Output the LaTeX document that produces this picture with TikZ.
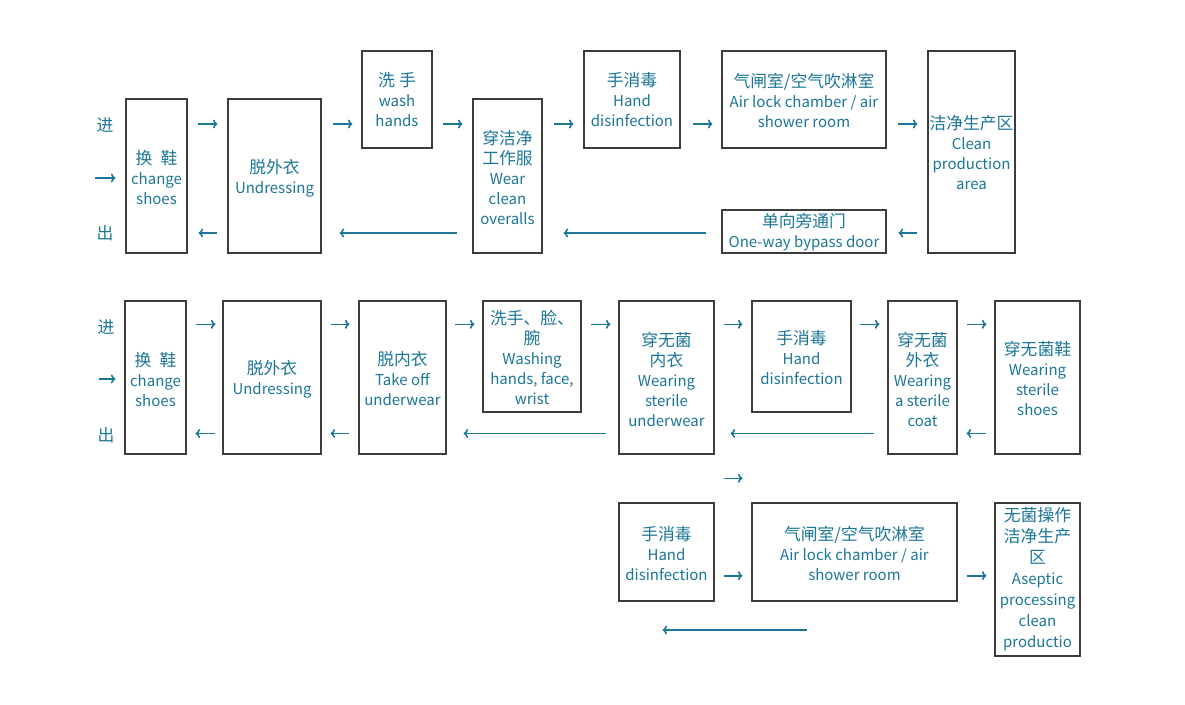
\documentclass[tikz,border=0pt]{standalone}
\usepackage{fontspec}
\setmainfont{Noto Sans CJK SC}
\newfontfamily\zhfont[Scale=1.12]{Noto Sans CJK SC}
\newcommand{\zh}[1]{{\zhfont #1}}
\usetikzlibrary{arrows.meta}
\definecolor{tealtext}{RGB}{28,118,152}
\definecolor{boxline}{RGB}{60,60,60}
\begin{document}
\begin{tikzpicture}[x=1pt,y=1pt,
  box/.style 2 args={draw=boxline,line width=1.1pt,inner sep=0pt,minimum width=#1,minimum height=#2},
  txt/.style={text=tealtext,align=center,inner sep=0pt,font=\fontsize{15pt}{20pt}\selectfont},
  arr/.style={draw=tealtext,line width=1.6pt,-{To[length=4.5pt,width=9pt]}}]
\useasboundingbox (0,0) rectangle (1185,-704);
\fill[white] (0,0) rectangle (1185,-704);

% ---------- Row 1 ----------
\node[box={61pt}{154pt}] (r1a) at (156.5,-176) {};
\node[box={93pt}{154pt}] (r1b) at (274.5,-176) {};
\node[box={70pt}{97pt}]  (r1c) at (397,-99.5) {};
\node[box={69pt}{154pt}] (r1d) at (507.5,-176) {};
\node[box={96pt}{97pt}]  (r1e) at (632,-99.5) {};
\node[box={164pt}{97pt}] (r1f) at (804,-99.5) {};
\node[box={87pt}{202pt}] (r1g) at (971.5,-152) {};
\node[box={164pt}{43pt}] (r1h) at (804,-231.5) {};

\node[txt] (t1a) at ([yshift=-1.5pt]r1a.center) {\zh{换\hspace{0.5em}鞋}\\change\\shoes};
\node[txt] (t1b) at ([yshift=-2pt]r1b.center) {\zh{脱外衣}\\Undressing};
\node[txt] (t1c) at ([yshift=-0.5pt]r1c.center) {\zh{洗\hspace{0.25em}手}\\wash\\hands};
\node[txt] (t1d) at ([yshift=-1.5pt]r1d.center) {\zh{穿洁净}\\\zh{工作服}\\Wear\\clean\\overalls};
\node[txt] (t1e) at ([yshift=-0.5pt]r1e.center) {\zh{手消毒}\\Hand\\disinfection};
\node[txt] (t1f) at ([yshift=-0.5pt]r1f.center) {\zh{气闸室/空气吹淋室}\\Air lock chamber / air\\shower room};
\node[txt] (t1g) at ([yshift=-0.5pt]r1g.center) {\zh{洁净生产区}\\Clean\\production\\area};
\node[txt] (t1h) at ([yshift=-0.5pt]r1h.center) {\zh{单向旁通门}\\One-way bypass door};

\node[txt] (in1) at (105,-125) {\zh{进}};
\node[txt] (out1) at (105,-233) {\zh{出}};
\coordinate (e1) at (95,-178);
\draw[arr,shorten >=10pt] (e1) -- (r1a.west |- e1);

\coordinate (y1r) at (0,-124);
\coordinate (y1l) at (0,-233);
\draw[arr,shorten <=10pt,shorten >=10pt] (r1a.east |- y1r) -- (r1b.west |- y1r);
\draw[arr,shorten <=11pt,shorten >=9pt]  (r1b.east |- y1r) -- (r1c.west |- y1r);
\draw[arr,shorten <=10pt,shorten >=10pt] (r1c.east |- y1r) -- (r1d.west |- y1r);
\draw[arr,shorten <=11pt,shorten >=10pt] (r1d.east |- y1r) -- (r1e.west |- y1r);
\draw[arr,shorten <=12pt,shorten >=9pt]  (r1e.east |- y1r) -- (r1f.west |- y1r);
\draw[arr,shorten <=11pt,shorten >=10pt] (r1f.east |- y1r) -- (r1g.west |- y1r);

\draw[arr,shorten <=10pt,shorten >=11pt] (r1b.west |- y1l) -- (r1a.east |- y1l);
\draw[arr,shorten <=15pt,shorten >=18pt] (r1d.west |- y1l) -- (r1b.east |- y1l);
\draw[arr,shorten <=15pt,shorten >=21pt] (r1h.west |- y1l) -- (r1d.east |- y1l);
\draw[arr,shorten <=10pt,shorten >=12pt] (r1g.west |- y1l) -- (r1h.east |- y1l);

% ---------- Row 2 ----------
\node[box={61pt}{153pt}] (r2a) at (155.5,-377.5) {};
\node[box={98pt}{153pt}] (r2b) at (272,-377.5) {};
\node[box={87pt}{153pt}] (r2c) at (402.5,-377.5) {};
\node[box={98pt}{111pt}] (r2d) at (532,-356.5) {};
\node[box={95pt}{153pt}] (r2e) at (666.5,-377.5) {};
\node[box={99pt}{111pt}] (r2f) at (801.5,-356.5) {};
\node[box={69pt}{153pt}] (r2g) at (922.5,-377.5) {};
\node[box={85pt}{153pt}] (r2h) at (1037.5,-377.5) {};

\node[txt] (t2a) at ([yshift=-2pt]r2a.center) {\zh{换\hspace{0.5em}鞋}\\change\\shoes};
\node[txt] (t2b) at ([yshift=-1.5pt]r2b.center) {\zh{脱外衣}\\Undressing};
\node[txt] (t2c) at ([yshift=-1.5pt]r2c.center) {\zh{脱内衣}\\Take off\\underwear};
\node[txt] (t2d) at ([yshift=-0.5pt]r2d.center) {\zh{洗手、脸、}\\\zh{腕}\\Washing\\hands, face,\\wrist};
\node[txt] (t2e) at ([yshift=-1.5pt]r2e.center) {\zh{穿无菌}\\\zh{内衣}\\Wearing\\sterile\\underwear};
\node[txt] (t2f) at ([yshift=-1.5pt]r2f.center) {\zh{手消毒}\\Hand\\disinfection};
\node[txt] (t2g) at ([yshift=-1.5pt]r2g.center) {\zh{穿无菌}\\\zh{外衣}\\Wearing\\a sterile\\coat};
\node[txt] (t2h) at ([yshift=-1pt]r2h.center) {\zh{穿无菌鞋}\\Wearing\\sterile\\shoes};

\node[txt] (in2) at (106,-327) {\zh{进}};
\node[txt] (out2) at (106,-435) {\zh{出}};
\coordinate (e2) at (99,-379);
\draw[arr,shorten >=9pt] (e2) -- (r2a.west |- e2);

\coordinate (y2r) at (0,-324.3);
\coordinate (y2l) at (0,-433.5);
\draw[arr,shorten <=9pt,shorten >=7pt] (r2a.east |- y2r) -- (r2b.west |- y2r);
\draw[arr,shorten <=9pt,shorten >=9pt] (r2b.east |- y2r) -- (r2c.west |- y2r);
\draw[arr,shorten <=8pt,shorten >=8pt] (r2c.east |- y2r) -- (r2d.west |- y2r);
\draw[arr,shorten <=9pt,shorten >=8pt] (r2d.east |- y2r) -- (r2e.west |- y2r);
\draw[arr,shorten <=9pt,shorten >=9pt] (r2e.east |- y2r) -- (r2f.west |- y2r);
\draw[arr,shorten <=8pt,shorten >=8pt] (r2f.east |- y2r) -- (r2g.west |- y2r);
\draw[arr,shorten <=9pt,shorten >=8pt] (r2g.east |- y2r) -- (r2h.west |- y2r);

\draw[arr,shorten <=7pt,shorten >=9pt]   (r2b.west |- y2l) -- (r2a.east |- y2l);
\draw[arr,shorten <=9pt,shorten >=9pt]   (r2c.west |- y2l) -- (r2b.east |- y2l);
\draw[arr,shorten <=12pt,shorten >=17pt] (r2e.west |- y2l) -- (r2c.east |- y2l);
\draw[arr,shorten <=13pt,shorten >=16pt] (r2g.west |- y2l) -- (r2e.east |- y2l);
\draw[arr,shorten <=8pt,shorten >=9pt]   (r2h.west |- y2l) -- (r2g.east |- y2l);

% ---------- Row 3 ----------
\node[box={95pt}{98pt}]  (r3a) at (666.5,-552) {};
\node[box={205pt}{98pt}] (r3b) at (854.5,-552) {};
\node[box={85pt}{153pt}] (r3c) at (1037.5,-579.5) {};

\node[txt] (t3a) at ([yshift=-1.5pt]r3a.center) {\zh{手消毒}\\Hand\\disinfection};
\node[txt] (t3b) at ([yshift=-1.5pt]r3b.center) {\zh{气闸室/空气吹淋室}\\Air lock chamber / air\\shower room};
\node[txt,font=\fontsize{15pt}{21pt}\selectfont] (t3c) at ([yshift=0pt]r3c.center) {\zh{无菌操作}\\\zh{洁净生产}\\\zh{区}\\Aseptic\\processing\\clean\\productio};

\coordinate (y3a) at (0,-478.3);
\coordinate (y3r) at (0,-575.7);
\draw[arr,shorten <=9pt,shorten >=9pt] (r3a.east |- y3a) -- (r3b.west |- y3a);
\draw[arr,shorten <=9pt,shorten >=9pt] (r3a.east |- y3r) -- (r3b.west |- y3r);
\draw[arr,shorten <=9pt,shorten >=8pt] (r3b.east |- y3r) -- (r3c.west |- y3r);
\coordinate (l3s) at (807,-630);
\coordinate (l3e) at (662.5,-630);
\draw[arr] (l3s) -- (l3e);
\end{tikzpicture}
\end{document}
